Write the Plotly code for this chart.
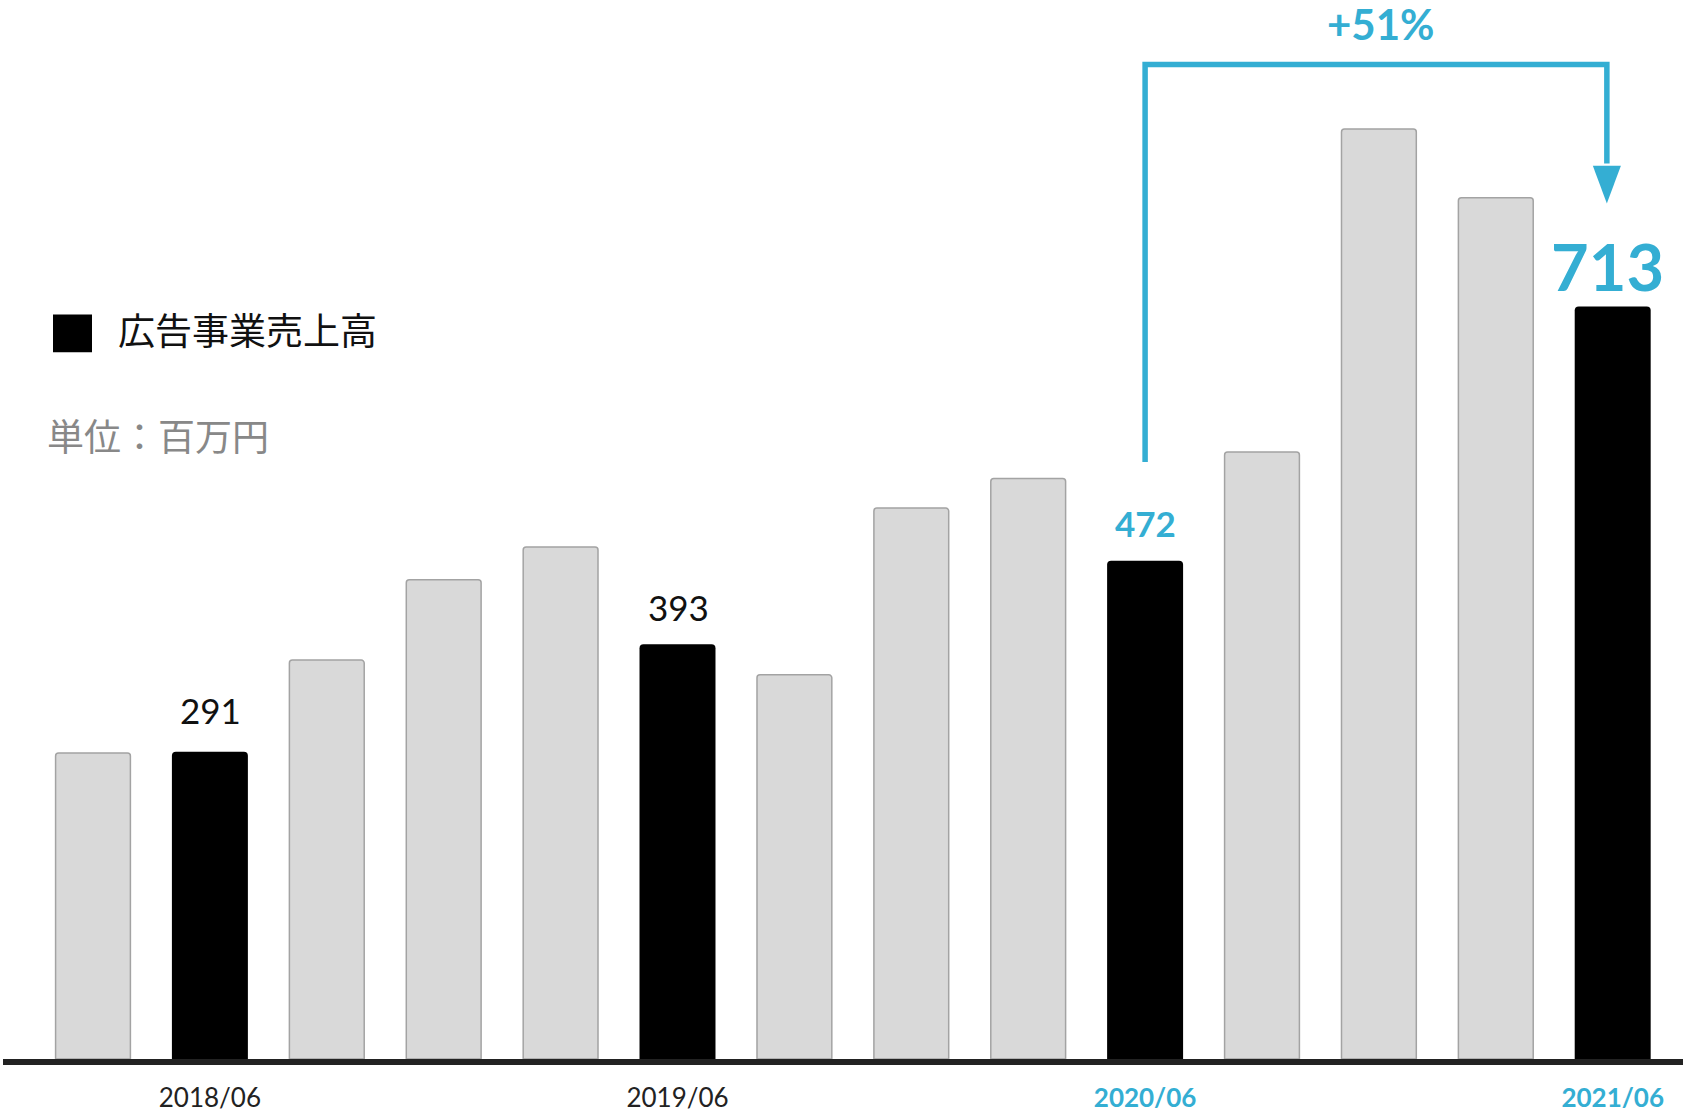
import plotly.graph_objects as go

# ---- data ----
quarters = ["2018/03", "2018/06", "2018/09", "2018/12", "2019/03", "2019/06", "2019/09",
            "2019/12", "2020/03", "2020/06", "2020/09", "2020/12", "2021/03", "2021/06"]
ad_sales = [290, 291, 378, 454, 485, 393, 364, 522, 550, 472, 575, 881, 816, 713]
highlight = [False, True, False, False, False, True, False, False, False, True, False, False, False, True]
tick_labels = ["2018/06", "2019/06", "2020/06", "2021/06"]
accent_labels = ["2020/06", "2021/06"]
growth_label = "+51%"
legend_name = "広告事業売上高"
unit_label = "単位：百万円"

BLUE = "#34AED3"
W, H = 1683, 1113
MB = 46
PH = H - MB
PX_PER_X = 116.9
X0_PX = 93
PX_PER_Y = 1.0575
BASE_PX = 1061

xr = [-X0_PX / PX_PER_X, (W - X0_PX) / PX_PER_X]
yr = [-(PH - BASE_PX) / PX_PER_Y, BASE_PX / PX_PER_Y]

xs = list(range(len(quarters)))
gx = [x for x, h in zip(xs, highlight) if not h]
gy = [v for v, h in zip(ad_sales, highlight) if not h]
bx = [x for x, h in zip(xs, highlight) if h]
by = [v for v, h in zip(ad_sales, highlight) if h]

fig = go.Figure()
fig.add_trace(go.Bar(x=gx, y=gy, width=0.64, marker=dict(color="#d9d9d9", line=dict(color="#a3a3a3", width=1.5), cornerradius=3),
                     showlegend=False, hoverinfo="skip"))
fig.add_trace(go.Bar(x=bx, y=by, width=0.65, marker=dict(color="#000000", line=dict(width=0), cornerradius=4),
                     name=legend_name, showlegend=False))

def qidx(q):
    return quarters.index(q)

ticktext = []
for t in tick_labels:
    if t in accent_labels:
        ticktext.append(f"<span style='color:{BLUE}'><b>{t}</b></span>")
    else:
        ticktext.append(t)

fig.update_layout(
    width=W, height=H,
    margin=dict(l=0, r=0, t=0, b=MB, pad=0),
    paper_bgcolor="white", plot_bgcolor="white",
    barmode="overlay",
    xaxis=dict(range=xr, showgrid=False, zeroline=False, showline=False,
               tickvals=[qidx(t) for t in tick_labels], ticktext=ticktext,
               tickfont=dict(family="Lato", size=26, color="#222222"), ticks="", ticklabelstandoff=15),
    yaxis=dict(range=yr, showgrid=False, zeroline=False, showline=False, showticklabels=False),
    font=dict(family="Lato"),
)

# axis baseline
fig.add_shape(type="rect", xref="paper", yref="y", x0=3 / W, x1=1, y0=yr[0], y1=0,
              fillcolor="#222222", line=dict(width=0), layer="above")

# value labels on highlighted bars
for x, v in zip(bx, by):
    last = x == bx[-1]
    accent = quarters[x] in accent_labels
    if last:
        fig.add_annotation(x=x, y=v, xref="x", yref="y", text=f"<b>{v}</b>", showarrow=False,
                           font=dict(family="Lato", size=65, color=BLUE), yanchor="middle", yshift=40, xshift=-5)
    elif accent:
        fig.add_annotation(x=x, y=v, xref="x", yref="y", text=f"<b>{v}</b>", showarrow=False,
                           font=dict(family="Lato", size=35, color=BLUE), yanchor="middle", yshift=38)
    else:
        fig.add_annotation(x=x, y=v, xref="x", yref="y", text=f"{v}", showarrow=False,
                           font=dict(family="Lato", size=35, color="#111111"), yanchor="middle",
                           yshift=42 if x == bx[0] else 37, xshift=1)

# growth bracket from 2020/06 to 2021/06
xa, xb = qidx("2020/06"), qidx("2021/06") - 0.05
y_start = 565.5
y_top = 942.3
y_head_top = 846.3
y_tip = 810.4
fig.add_shape(type="path", xref="x", yref="y",
              path=f"M {xa},{y_start} L {xa},{y_top} L {xb},{y_top} L {xb},{y_head_top + 2}",
              line=dict(color=BLUE, width=5.5))
fig.add_shape(type="path", xref="x", yref="y",
              path=f"M {xb - 0.12},{y_head_top} L {xb + 0.12},{y_head_top} L {xb},{y_tip} Z",
              fillcolor=BLUE, line=dict(color=BLUE, width=0))
fig.add_annotation(x=(xa + xb) / 2, y=1 - 24 / PH, xref="x", yref="paper", text=f"<b>{growth_label}</b>",
                   showarrow=False, font=dict(family="Lato", size=42, color=BLUE), yanchor="middle", xshift=5)

# legend
fig.add_shape(type="rect", xref="paper", yref="paper", x0=53 / W, x1=92 / W,
              y0=(PH - 353) / PH, y1=(PH - 315) / PH, fillcolor="#000000", line=dict(width=0))
fig.add_annotation(x=116 / W, y=(PH - 330) / PH, xref="paper", yref="paper", text=legend_name,
                   showarrow=False, xanchor="left", yanchor="middle",
                   font=dict(family="Noto Sans CJK JP", size=37, color="#111111"))
fig.add_annotation(x=45 / W, y=(PH - 436) / PH, xref="paper", yref="paper", text=unit_label,
                   showarrow=False, xanchor="left", yanchor="middle",
                   font=dict(family="Noto Sans CJK JP", size=37, color="#888888"))

fig.write_html("out.html")
